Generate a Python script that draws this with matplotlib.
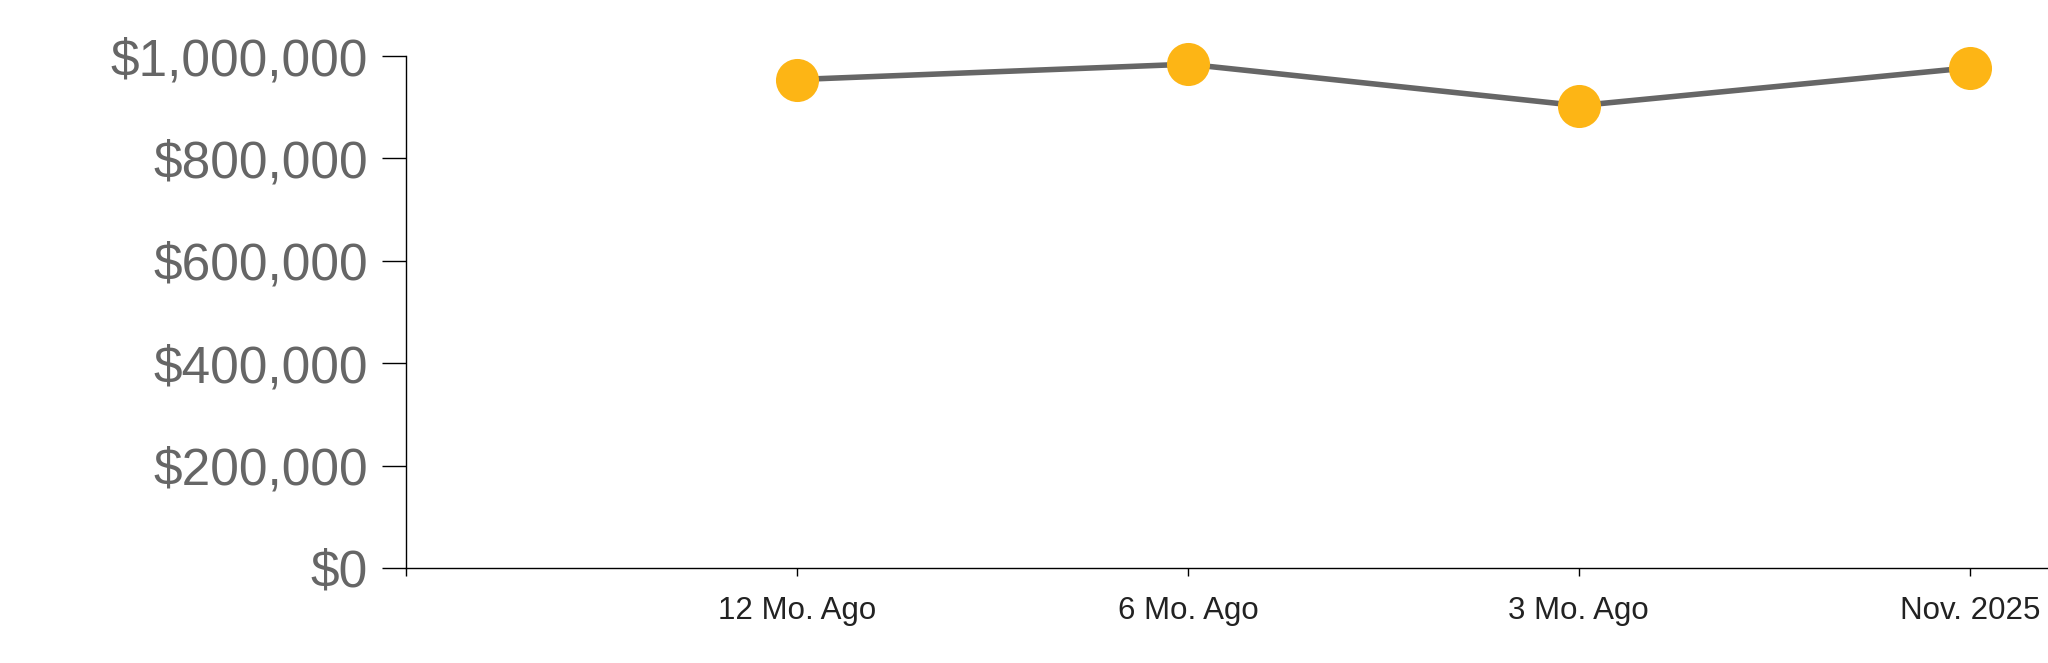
import matplotlib
matplotlib.use("Agg")
from matplotlib import pyplot as plt

# values
periods = ['12 Mo. Ago', '6 Mo. Ago', '3 Mo. Ago', 'Nov. 2025']
prices = [954000, 984000, 903000, 977000]
yticks = [0, 200000, 400000, 600000, 800000, 1000000]

W, H = 2048, 663
fig = plt.figure(figsize=(W / 100, H / 100), dpi=100)
ax = fig.add_axes([406 / W, (H - 568) / H, 1 - 406 / W, (568 - 56) / H])

xpos = list(range(1, len(periods) + 1))
ax.plot(xpos, prices, color='#666666', lw=4, zorder=2)
ax.plot(xpos, prices, 'o', color='#FDB515', markersize=31, markeredgewidth=0, zorder=3, clip_on=False)

ax.set_xlim(0, 4.2)
ax.set_ylim(0, 1000000)

ax.set_xticks([0] + xpos)
ax.set_xticklabels([''] + periods, fontsize=22.5, color='#222222', family='Liberation Sans')
ax.set_yticks(yticks)
ax.set_yticklabels(['${:,.0f}'.format(v) for v in yticks], fontsize=37, color='#666666',
                   family='Liberation Sans')

ax.tick_params(axis='x', length=5.5, width=1, pad=15)
ax.tick_params(axis='y', length=17.5, width=1, pad=10)

for s in ['top', 'right']:
    ax.spines[s].set_visible(False)
ax.spines['left'].set_linewidth(1)
ax.spines['bottom'].set_linewidth(1)

fig.savefig('out.png', dpi=100)
